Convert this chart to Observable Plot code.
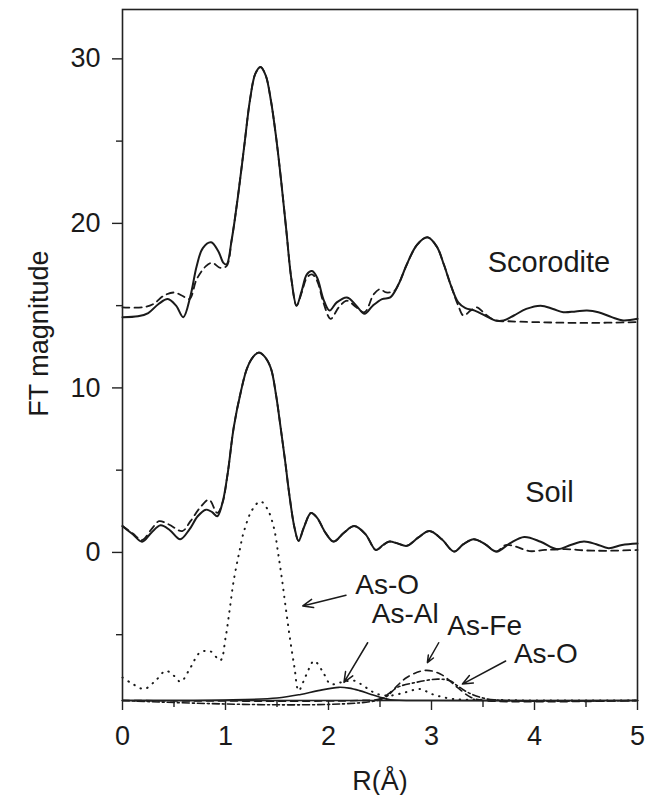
<!DOCTYPE html>
<html>
<head>
<meta charset="utf-8">
<script src="https://cdn.jsdelivr.net/npm/d3@7"></script>
<script src="https://cdn.jsdelivr.net/npm/@observablehq/plot@0.6"></script>
<style>
  html, body { margin: 0; padding: 0; background: #fff; }
  #chart svg { display: block; }
</style>
</head>
<body>
<div id="chart"></div>
<script>
// Fourier-transform magnitudes of As K-edge EXAFS, R in Å.
// Each series is a list of [R, magnitude] pairs (offset for stacking).
const scoroditeData = [
  [0, 14.3], [0.15, 14.35], [0.25, 14.55], [0.35, 15.1], [0.44, 15.4], [0.52, 15.0],
  [0.59, 14.3], [0.66, 15.6], [0.72, 17.4], [0.78, 18.5], [0.86, 18.85], [0.93, 18.3],
  [0.98, 17.6], [1.01, 17.5], [1.06, 19.0], [1.12, 21.6], [1.18, 24.6], [1.24, 27.6],
  [1.29, 29.1], [1.34, 29.5], [1.39, 29.0], [1.44, 27.5], [1.49, 25.3], [1.54, 22.6],
  [1.59, 19.6], [1.64, 16.6], [1.69, 15.0], [1.74, 15.9], [1.79, 16.9], [1.84, 17.1],
  [1.89, 16.7], [1.95, 15.4], [2.01, 14.7], [2.08, 15.2], [2.18, 15.5], [2.27, 15.0],
  [2.35, 14.5], [2.43, 15.0], [2.52, 15.4], [2.6, 15.5], [2.68, 16.3], [2.76, 17.5],
  [2.86, 18.7], [2.96, 19.15], [3.05, 18.6], [3.12, 17.5], [3.19, 16.2], [3.26, 15.2],
  [3.33, 14.85], [3.42, 14.7], [3.52, 14.4], [3.62, 14.1], [3.70, 14.1], [3.80, 14.4],
  [3.92, 14.8], [4.06, 15.0], [4.18, 14.8], [4.28, 14.6], [4.40, 14.65], [4.51, 14.7],
  [4.62, 14.6], [4.75, 14.3], [4.86, 14.1], [5.0, 14.2]
];
const scoroditeFit = [
  [0, 14.9], [0.2, 14.9], [0.3, 15.1], [0.4, 15.6], [0.5, 15.8], [0.58, 15.6],
  [0.65, 15.4], [0.72, 16.6], [0.81, 17.4], [0.87, 17.6], [0.95, 17.3], [1.01, 17.4],
  [1.06, 19.0], [1.12, 21.6], [1.18, 24.6], [1.24, 27.6], [1.29, 29.1], [1.34, 29.5],
  [1.39, 29.0], [1.44, 27.5], [1.49, 25.3], [1.54, 22.6], [1.59, 19.6], [1.64, 16.6],
  [1.69, 15.0], [1.74, 15.8], [1.79, 16.7], [1.84, 16.9], [1.89, 16.5], [1.95, 15.2],
  [2.02, 14.2], [2.10, 14.9], [2.18, 15.3], [2.27, 14.9], [2.35, 14.6], [2.44, 15.7],
  [2.50, 16.0], [2.56, 15.8], [2.64, 15.9], [2.68, 16.3], [2.76, 17.5], [2.86, 18.7],
  [2.96, 19.15], [3.05, 18.6], [3.12, 17.5], [3.19, 16.2], [3.26, 15.0], [3.31, 14.4],
  [3.38, 14.7], [3.44, 14.9], [3.52, 14.5], [3.62, 14.1], [3.75, 14.05], [4.0, 14.0],
  [4.5, 13.95], [5.0, 14.0]
];
const soilData = [
  [0, 1.6], [0.1, 1.1], [0.19, 0.65], [0.28, 1.2], [0.37, 1.65], [0.46, 1.35],
  [0.56, 0.8], [0.65, 1.4], [0.73, 2.2], [0.81, 2.6], [0.87, 2.45], [0.92, 2.2],
  [0.97, 3.0], [1.02, 4.75], [1.08, 7.6], [1.15, 9.8], [1.21, 11.2], [1.27, 11.9],
  [1.325, 12.15], [1.38, 11.9], [1.44, 11.2], [1.49, 9.6], [1.535, 7.6], [1.58, 5.5],
  [1.62, 3.5], [1.67, 1.5], [1.71, 0.7], [1.76, 1.5], [1.83, 2.4], [1.89, 2.1],
  [1.97, 1.2], [2.05, 0.66], [2.15, 1.2], [2.25, 1.6], [2.36, 1.1], [2.46, 0.15],
  [2.53, 0.45], [2.59, 0.66], [2.67, 0.55], [2.76, 0.4], [2.87, 0.9], [2.98, 1.3],
  [3.1, 0.8], [3.22, 0.05], [3.31, 0.5], [3.41, 0.8], [3.52, 0.5], [3.63, 0.05],
  [3.76, 0.55], [3.90, 0.94], [4.06, 0.65], [4.22, 0.2], [4.35, 0.45], [4.48, 0.66],
  [4.60, 0.5], [4.72, 0.26], [4.85, 0.45], [5.0, 0.54]
];
const soilFit = [
  [0, 1.6], [0.1, 1.15], [0.19, 0.75], [0.28, 1.4], [0.355, 1.9], [0.45, 1.7],
  [0.58, 1.3], [0.66, 1.9], [0.75, 2.7], [0.84, 3.2], [0.92, 2.4], [0.97, 3.0],
  [1.02, 4.75], [1.08, 7.6], [1.15, 9.8], [1.21, 11.2], [1.27, 11.9], [1.325, 12.15],
  [1.38, 11.9], [1.44, 11.2], [1.49, 9.6], [1.535, 7.6], [1.58, 5.5], [1.62, 3.5],
  [1.67, 1.5], [1.71, 0.7], [1.76, 1.5], [1.83, 2.4], [1.89, 2.1], [1.97, 1.2],
  [2.05, 0.66], [2.15, 1.2], [2.25, 1.6], [2.36, 1.1], [2.46, 0.15], [2.53, 0.45],
  [2.59, 0.66], [2.67, 0.55], [2.76, 0.4], [2.87, 0.9], [2.98, 1.3], [3.1, 0.8],
  [3.22, 0.05], [3.31, 0.5], [3.41, 0.8], [3.52, 0.5], [3.63, 0.05], [3.72, 0.45],
  [3.82, 0.35], [3.95, 0.08], [4.1, 0.15], [4.3, 0.2], [4.5, 0.12], [4.7, 0.1],
  [5.0, 0.15]
];
// Single-shell contributions to the soil fit, drawn at the bottom of the panel.
const pathAsO1 = [
  [0, -7.6], [0.1, -8.0], [0.21, -8.3], [0.32, -7.8], [0.42, -7.2], [0.5, -7.5],
  [0.565, -7.86], [0.66, -7.0], [0.75, -6.1], [0.85, -6.0], [0.95, -6.56], [1.0, -5.2],
  [1.04, -3.5], [1.08, -1.7], [1.13, -0.1], [1.18, 1.3], [1.26, 2.6], [1.34, 3.1],
  [1.41, 2.6], [1.47, 1.5], [1.51, 0.0], [1.55, -1.7], [1.59, -3.6], [1.63, -5.4],
  [1.67, -7.0], [1.71, -8.4], [1.78, -7.5], [1.86, -6.6], [1.94, -7.2], [2.02, -8.0],
  [2.12, -7.9], [2.25, -7.8], [2.36, -8.2], [2.47, -8.6], [2.6, -8.7], [2.75, -8.5],
  [2.89, -8.3], [3.0, -8.6], [3.2, -8.9], [3.5, -8.95], [4.0, -9.0], [5.0, -9.0]
];
const pathAsAl = [
  [0, -9.0], [1.0, -8.97], [1.5, -8.85], [1.73, -8.63], [1.9, -8.4], [2.1, -8.2],
  [2.2, -8.25], [2.3, -8.4], [2.4, -8.6], [2.5, -8.8], [2.6, -8.95], [3.0, -9.0], [5.0, -9.0]
];
const pathAsFe = [
  [0, -9.0], [2.3, -9.0], [2.5, -8.9], [2.6, -8.5], [2.76, -7.6], [2.94, -7.17],
  [3.09, -7.4], [3.25, -8.2], [3.38, -8.8], [3.5, -9.0], [5.0, -9.0]
];
const pathAsO2 = [
  [0, -9.0], [2.5, -8.95], [2.67, -8.2], [2.85, -7.9], [3.06, -7.7], [3.18, -7.8],
  [3.25, -8.1], [3.35, -8.5], [3.5, -8.85], [3.7, -9.0], [5.0, -9.0]
];

// Sample names and shell labels with their pointer arrows.
const sampleLabels = [
  {text: "Scorodite", R: 4.14, v: 17.6},
  {text: "Soil", R: 4.145, v: 3.6}
];
const shellLabels = [
  {text: "As-O", R: 2.57, v: -1.98},
  {text: "As-Al", R: 2.745, v: -3.74},
  {text: "As-Fe", R: 3.516, v: -4.47},
  {text: "As-O", R: 4.11, v: -6.17}
];
const shellArrows = [
  {R1: 2.17, v1: -2.6, R2: 1.75, v2: -3.25},
  {R1: 2.38, v1: -5.49, R2: 2.15, v2: -7.9},
  {R1: 3.07, v1: -5.49, R2: 2.96, v2: -6.7},
  {R1: 3.72, v1: -6.6, R2: 3.30, v2: -8.0}
];

const xMajor = [0, 1, 2, 3, 4, 5];
const xMinor = [0.5, 1.5, 2.5, 3.5, 4.5];
const yMajor = [0, 10, 20, 30];
const yMinor = [-5, 5, 15, 25];

const ink = "#1a1a1a";
const lineOpts = {x: d => d[0], y: d => d[1], stroke: ink, curve: "catmull-rom"};

const chart = Plot.plot({
  width: 645,
  height: 795,
  marginLeft: 122,
  marginRight: 8,
  marginTop: 9,
  marginBottom: 95,
  style: {fontFamily: "'Liberation Sans', Arial, Helvetica, sans-serif", background: "#fff", color: ink},
  x: {domain: [0, 5], label: null},
  y: {domain: [-9, 33], label: null},
  marks: [
    // spectra
    Plot.line(scoroditeFit, {...lineOpts, strokeWidth: 1.8, strokeDasharray: "7,5"}),
    Plot.line(scoroditeData, {...lineOpts, strokeWidth: 2}),
    Plot.line(soilFit, {...lineOpts, strokeWidth: 1.8, strokeDasharray: "7,5"}),
    Plot.line(soilData, {...lineOpts, strokeWidth: 2}),
    // shell contributions
    Plot.line(pathAsO1, {...lineOpts, strokeWidth: 2, strokeDasharray: "0.5,6.5", strokeLinecap: "round"}),
    Plot.line(pathAsAl, {...lineOpts, strokeWidth: 1.6}),
    Plot.line(pathAsFe, {...lineOpts, strokeWidth: 1.6, strokeDasharray: "7,5"}),
    Plot.line(pathAsO2, {...lineOpts, strokeWidth: 1.6, strokeDasharray: "7,3,2,3"}),
    // frame and axes
    Plot.frame({stroke: "#222", strokeWidth: 1.6}),
    Plot.axisX({ticks: xMajor, tickSize: 10, tickPadding: 15, tickFormat: d3.format("d"), fontSize: 27, label: null, stroke: "#222", strokeWidth: 1.4}),
    Plot.axisX({ticks: xMinor, tickSize: 7, tickFormat: () => "", label: null, stroke: "#222", strokeWidth: 1.4}),
    Plot.axisY({ticks: yMajor, tickSize: 10, tickPadding: 12, tickFormat: d3.format("d"), fontSize: 27, label: null, stroke: "#222", strokeWidth: 1.4}),
    Plot.axisY({ticks: yMinor, tickSize: 6, tickFormat: () => "", label: null, stroke: "#222", strokeWidth: 1.4}),
    // axis titles
    Plot.text(["FT magnitude"], {frameAnchor: "left", y: 13.3, dx: -83, rotate: -90, textAnchor: "middle", lineAnchor: "middle", fontSize: 27, fill: ink}),
    Plot.text(["R(Å)"], {frameAnchor: "bottom", x: 2.5, dy: 81, textAnchor: "middle", lineAnchor: "middle", fontSize: 27, fill: ink}),
    // annotations
    Plot.text(sampleLabels, {x: "R", y: "v", text: "text", fontSize: 29, fill: ink}),
    Plot.text(shellLabels, {x: "R", y: "v", text: "text", fontSize: 28, fill: ink}),
    Plot.arrow(shellArrows, {x1: "R1", y1: "v1", x2: "R2", y2: "v2", stroke: ink, strokeWidth: 1.5, headLength: 11, headAngle: 45})
  ]
});

document.getElementById("chart").appendChild(chart);
</script>
</body>
</html>
